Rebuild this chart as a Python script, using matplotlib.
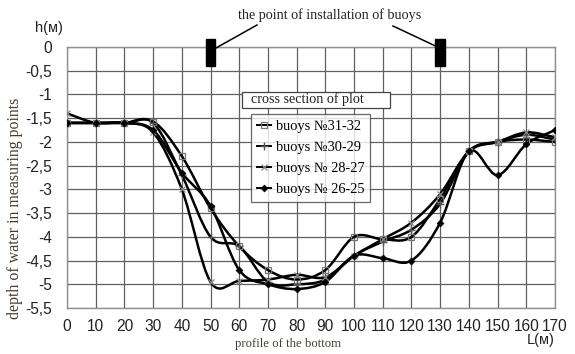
import numpy as np
import matplotlib
matplotlib.use("Agg")
import matplotlib.pyplot as plt
from matplotlib.path import Path
from matplotlib.patches import PathPatch, Rectangle
from matplotlib.lines import Line2D

# ---- data ----
distance = [0, 10, 20, 30, 40, 50, 60, 70, 80, 90, 100, 110, 120, 130, 140, 150, 160, 170]
buoys_31_32 = [-1.6, -1.6, -1.6, -1.57, -2.3, -3.4, -4.2, -4.7, -4.9, -4.7, -4.0, -4.05, -4.0, -3.2, -2.2, -2.0, -1.95, -2.0]
buoys_30_29 = [-1.6, -1.6, -1.6, -1.6, -2.7, -4.0, -4.2, -4.95, -5.0, -4.9, -4.4, -4.1, -3.85, -3.3, -2.2, -2.0, -1.85, -1.95]
buoys_28_27 = [-1.4, -1.6, -1.6, -1.8, -3.0, -4.95, -4.93, -4.9, -4.8, -4.85, -4.4, -4.05, -3.7, -3.1, -2.2, -2.0, -1.8, -1.9]
buoys_26_25 = [-1.6, -1.6, -1.6, -1.75, -2.65, -3.35, -4.7, -5.0, -5.1, -4.95, -4.4, -4.45, -4.5, -3.7, -2.2, -2.7, -2.05, -1.75]
series_labels = ["buoys \u211631-32", "buoys \u211630-29", "buoys \u2116 28-27", "buoys \u2116 26-25"]
x_ticks = list(range(0, 171, 10))
y_ticks = [0, -0.5, -1, -1.5, -2, -2.5, -3, -3.5, -4, -4.5, -5, -5.5]
buoy_positions = [50, 130]

SERIF = ["Liberation Serif", "DejaVu Serif"]
SANS = ["Liberation Sans", "DejaVu Sans"]

W, H = 575, 354
fig = plt.figure(figsize=(W / 100, H / 100), dpi=100)
ax = fig.add_axes([67 / W, 1 - 308 / H, (555 - 67) / W, (308 - 47) / H])
ax.set_xlim(0, 170)
ax.set_ylim(-5.5, 0)
ax.set_xticks(x_ticks)
ax.set_yticks(y_ticks)
ax.set_xticklabels([str(v) for v in x_ticks], fontsize=11.2, family=SANS, color="#222222")
ax.set_yticklabels([("%g" % v).replace(".", ",") for v in y_ticks], fontsize=11.2, family=SANS, color="#222222")
ax.tick_params(axis="y", length=0, pad=11)
ax.tick_params(axis="x", length=0, pad=8)
ax.grid(True, color="#606060", linewidth=0.9)
ax.set_axisbelow(True)
for s in ax.spines.values():
    s.set_color("#909090")
    s.set_linewidth(1.0)


def smooth_path(xs, ys):
    xs = np.asarray(xs, float)
    ys = np.asarray(ys, float)
    px = np.concatenate([[2 * xs[0] - xs[1]], xs, [2 * xs[-1] - xs[-2]]])
    py = np.concatenate([[2 * ys[0] - ys[1]], ys, [2 * ys[-1] - ys[-2]]])
    verts = [(xs[0], ys[0])]
    codes = [Path.MOVETO]
    for i in range(1, len(px) - 2):
        c1 = (px[i] + (px[i + 1] - px[i - 1]) / 6, py[i] + (py[i + 1] - py[i - 1]) / 6)
        c2 = (px[i + 1] - (px[i + 2] - px[i]) / 6, py[i + 1] - (py[i + 2] - py[i]) / 6)
        verts += [c1, c2, (px[i + 1], py[i + 1])]
        codes += [Path.CURVE4] * 3
    return Path(verts, codes)


styles = [
    dict(marker="s", ms=4.5, mfc="none", mec="#777777", mew=0.9),
    dict(marker="+", ms=6, mfc="none", mec="#555555", mew=1.0),
    dict(marker="x", ms=5, mfc="none", mec="#888888", mew=0.9),
    dict(marker="D", ms=3.5, mfc="black", mec="black", mew=0.5),
]
all_series = [buoys_31_32, buoys_30_29, buoys_28_27, buoys_26_25]
handles = []
for ys, st, lab in zip(all_series, styles, series_labels):
    ax.add_patch(PathPatch(smooth_path(distance, ys), fill=False, edgecolor="black", linewidth=1.8, zorder=3))
    ax.plot(distance, ys, linestyle="none", zorder=4, **st)
    handles.append(Line2D([0], [0], color="black", linewidth=1.4, **st))

leg = ax.legend(handles, series_labels, loc="upper left",
                bbox_to_anchor=(251 / W, 1 - 114 / H), bbox_transform=fig.transFigure,
                prop=dict(family=SERIF, size=10.4), frameon=True, fancybox=False,
                handlelength=1.0, handletextpad=0.3, labelspacing=0.55, borderpad=0.4,
                borderaxespad=0)
leg.get_frame().set_edgecolor("#444444")
leg.get_frame().set_linewidth(0.9)
leg.set_zorder(6)

# legend title box
fig.add_artist(Rectangle((242 / W, 1 - 108 / H), (390 - 242) / W, 16.5 / H, transform=fig.transFigure,
                         facecolor="white", edgecolor="#444444", linewidth=0.9, zorder=7))
fig.text(251 / W, 1 - 99.5 / H, "cross section of plot", ha="left", va="center",
         fontsize=10.2, family=SERIF, color="#222222", zorder=8)

# buoy markers
for bx in buoy_positions:
    ax.add_patch(Rectangle((bx - 1.7, -0.4), 3.4, 0.57, facecolor="black", edgecolor="black",
                           clip_on=False, zorder=5))

fig.text(330 / W, 1 - 15 / H, "the point of installation of buoys", ha="center", va="center",
         fontsize=10.2, family=SERIF, color="#222222")
fig.add_artist(Line2D([216 / W, 257 / W], [1 - 48 / H, 1 - 25 / H], color="black", lw=1.1,
                      transform=fig.transFigure))
fig.add_artist(Line2D([437 / W, 393 / W], [1 - 46.7 / H, 1 - 26 / H], color="black", lw=1.1,
                      transform=fig.transFigure))

fig.text(49 / W, 1 - 28 / H, "h(\u043c)", ha="center", va="center", fontsize=10.5, family=SANS, color="#222222")
fig.text(541 / W, 1 - 340 / H, "L(\u043c)", ha="center", va="center", fontsize=10.5, family=SANS, color="#222222")
fig.text(288 / W, 1 - 344 / H, "profile of the bottom", ha="center", va="center", fontsize=9.2,
         family=SERIF, color="#4a3c30")
fig.text(15 / W, 1 - 208 / H, "depth of water in measuring points", ha="center", va="center",
         rotation=90, fontsize=11.4, family=SERIF, color="#4a3c30")

fig.savefig("out.png", dpi=100)
